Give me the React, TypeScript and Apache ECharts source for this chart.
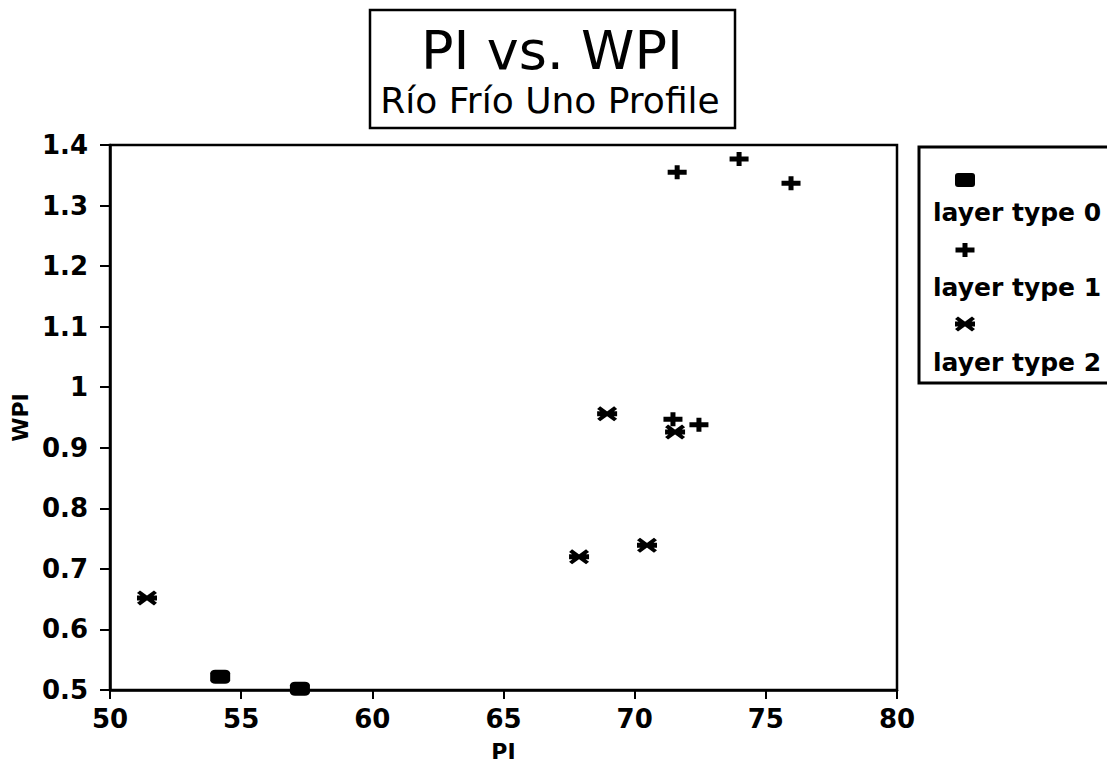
import React, { useEffect, useRef } from "react";
import * as echarts from "echarts";

const titleText = "PI vs. WPI";
const subtitleText = "Río Frío Uno Profile";
const xName = "PI";
const yName = "WPI";
const legendNames = ["layer type 0", "layer type 1", "layer type 2"];

const type0: [number, number][] = [
  [54.2, 0.522],
  [57.24, 0.502],
];
const type1: [number, number][] = [
  [71.62, 1.355],
  [73.98, 1.377],
  [75.96, 1.337],
  [71.46, 0.947],
  [72.45, 0.938],
];
const type2: [number, number][] = [
  [51.41, 0.652],
  [68.95, 0.956],
  [71.54, 0.926],
  [70.47, 0.739],
  [67.88, 0.72],
];

const PLUS_D = "M0,4.5L7,4.5L7,0L12,0L12,4.5L19,4.5L19,9.5L12,9.5L12,14L7,14L7,9.5L0,9.5Z";
const STAR_D =
  "M0,5L20,5L20,10L0,10Z M0,2.6L3,0L20,12.4L17,15Z M17,0L20,2.6L3,15L0,12.4Z";

echarts.graphic.registerShape("plusMark", echarts.graphic.extendPath(PLUS_D, {}));
echarts.graphic.registerShape("starMark", echarts.graphic.extendPath(STAR_D, {}));

const FONT = "DejaVu Sans";

export default function App() {
  const ref = useRef<HTMLDivElement>(null);
  useEffect(() => {
    if (!ref.current) return;
    const chart = echarts.init(ref.current, undefined, { renderer: "svg" });
    const legendX = 933;
    const iconX = 965;
    const option: any = {
      animation: false,
      backgroundColor: "#fff",
      grid: {
        left: 110,
        right: 210,
        top: 145,
        bottom: 77,
        show: true,
        borderColor: "#000",
        borderWidth: 2.5,
        containLabel: false,
        outerBoundsMode: "none",
      },
      xAxis: {
        type: "value",
        min: 50,
        max: 80,
        interval: 5,
        name: xName,
        nameLocation: "middle",
        nameGap: 50,
        nameTextStyle: { fontFamily: FONT, fontWeight: "bold", fontSize: 22, lineHeight: 22, color: "#000" },
        axisLine: { show: true, onZero: false, lineStyle: { color: "#000", width: 2.5 } },
        axisTick: { show: true, length: 9, lineStyle: { color: "#000", width: 2 } },
        axisLabel: { margin: 16, fontFamily: FONT, fontWeight: "bold", fontSize: 26, color: "#000" },
        splitLine: { show: false },
      },
      yAxis: {
        type: "value",
        min: 0.5,
        max: 1.4,
        interval: 0.1,
        name: yName,
        nameLocation: "middle",
        nameGap: 78,
        nameTextStyle: { fontFamily: FONT, fontWeight: "bold", fontSize: 22, color: "#000" },
        axisLine: { show: true, onZero: false, lineStyle: { color: "#000", width: 2.5 } },
        axisTick: { show: true, length: 10, lineStyle: { color: "#000", width: 2 } },
        axisLabel: { margin: 22, fontFamily: FONT, fontWeight: "bold", fontSize: 26, color: "#000" },
        splitLine: { show: false },
      },
      series: [
        {
          name: legendNames[0],
          type: "scatter",
          data: type0,
          symbol: "roundRect",
          symbolSize: [20, 14],
          itemStyle: { color: "#000", opacity: 1 },
        },
        {
          name: legendNames[1],
          type: "scatter",
          data: type1,
          symbol: "path://" + PLUS_D,
          symbolSize: [19, 14],
          itemStyle: { color: "#000", opacity: 1 },
        },
        {
          name: legendNames[2],
          type: "scatter",
          data: type2,
          symbol: "path://" + STAR_D,
          symbolSize: [20, 15],
          itemStyle: { color: "#000", opacity: 1 },
        },
      ],
      graphic: [
        {
          type: "rect",
          shape: { x: 370, y: 10, width: 365, height: 118 },
          style: { fill: "none", stroke: "#000", lineWidth: 2.5 },
          z: 10,
        },
        {
          type: "text",
          x: 552,
          y: 50,
          style: {
            text: titleText,
            fontFamily: FONT,
            fontSize: 54,
            fill: "#000",
            align: "center",
            verticalAlign: "middle",
          },
          z: 10,
        },
        {
          type: "text",
          x: 550,
          y: 100,
          style: {
            text: subtitleText,
            fontFamily: FONT,
            fontSize: 36,
            fill: "#000",
            align: "center",
            verticalAlign: "middle",
          },
          z: 10,
        },
        {
          type: "rect",
          shape: { x: 919, y: 147, width: 200, height: 236 },
          style: { fill: "none", stroke: "#000", lineWidth: 3 },
          z: 10,
        },
        {
          type: "rect",
          shape: { x: iconX - 10, y: 173, width: 20, height: 14, r: 3 },
          style: { fill: "#000" },
          z: 10,
        },
        {
          type: "plusMark",
          x: iconX - 9.5,
          y: 250 - 7,
          style: { fill: "#000" },
          z: 10,
        },
        {
          type: "starMark",
          x: iconX - 10,
          y: 324 - 7.5,
          style: { fill: "#000" },
          z: 10,
        },
        ...legendNames.map((n, i) => ({
          type: "text",
          x: legendX,
          y: 212 + i * 75,
          style: {
            text: n,
            fontFamily: FONT,
            fontWeight: "bold",
            fontSize: 25,
            fill: "#000",
            align: "left",
            verticalAlign: "middle",
          },
          z: 10,
        })),
      ],
    };
    chart.setOption(option);
    return () => chart.dispose();
  }, []);
  return (
    <div
      ref={ref}
      style={{ position: "fixed", left: 0, top: 0, width: 1107, height: 767, background: "#fff" }}
    />
  );
}
